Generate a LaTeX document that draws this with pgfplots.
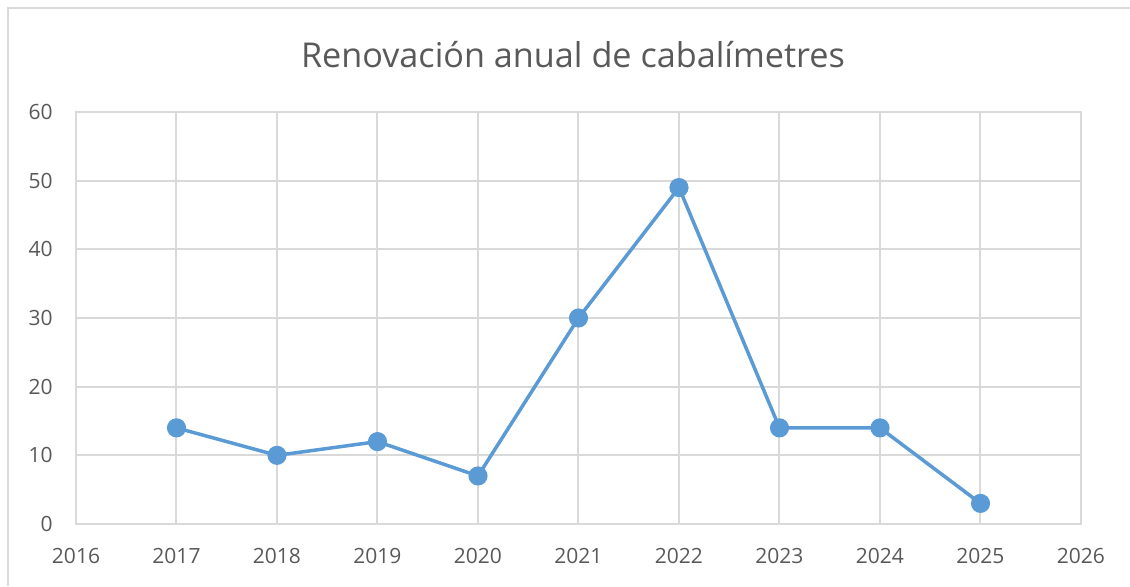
\documentclass[border=0pt]{standalone}
\usepackage{pgfplots}
\pgfplotsset{compat=1.18}
\usepackage{fontspec}
\setmainfont{Open Sans}
\definecolor{lineblue}{HTML}{5B9BD5}
\definecolor{gridgray}{HTML}{D9D9D9}
\definecolor{textgray}{HTML}{595959}
\begin{document}
\begin{tikzpicture}
\path[use as bounding box] (0,0) rectangle (565pt,293pt);
\draw[gridgray, line width=1pt] (4pt,0) -- (4pt,289pt) -- (565pt,289pt);
\node[text=textgray, font=\fontsize{17.1}{21}\selectfont] at (286.5pt,265.5pt) {Renovación anual de cabalímetres};
\begin{axis}[
  at={(38pt,31pt)}, anchor=south west,
  scale only axis, width=502.5pt, height=206pt,
  xmin=2016, xmax=2026, ymin=0, ymax=60,
  xtick={2016,2017,...,2026}, ytick={0,10,...,60},
  /pgf/number format/1000 sep={},
  /pgf/number format/assume math mode=true,
  grid=major,
  major grid style={gridgray, line width=1pt},
  axis line style={gridgray, line width=1pt},
  major tick length=0pt,
  tick style={draw=none},
  ticklabel style={text=textgray, font=\fontsize{10.5}{12}\selectfont, inner sep=0pt},
  xticklabel style={yshift=-12pt},
  yticklabel style={xshift=-11.5pt},
  clip=false,
]
\addplot[lineblue, line width=1.75pt, line join=round, mark=*, mark size=3.9pt, mark options={fill=lineblue, draw=none}]
  coordinates {(2017,14) (2018,10) (2019,12) (2020,7) (2021,30) (2022,49) (2023,14) (2024,14) (2025,3)};
\end{axis}
\end{tikzpicture}
\end{document}
